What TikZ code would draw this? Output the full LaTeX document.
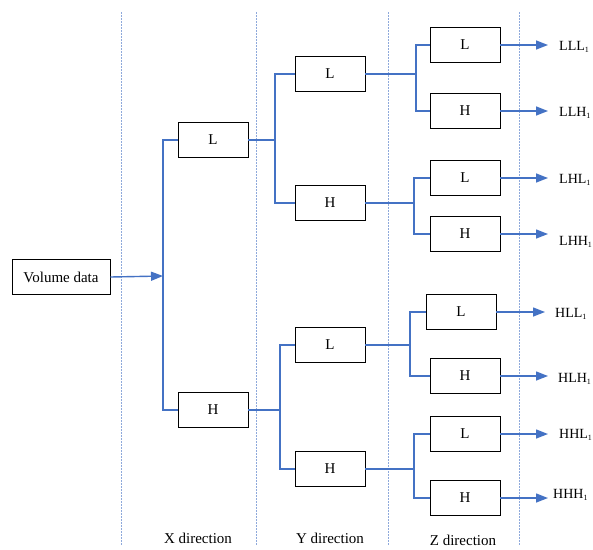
\documentclass[tikz,border=0pt]{standalone}
\usepackage{fontspec}
\setmainfont{Liberation Serif}
\usetikzlibrary{arrows.meta}
\definecolor{linkblue}{HTML}{4472C4}
\definecolor{sepblue}{HTML}{8EA9DB}
\newcommand{\one}{\raisebox{-2pt}{\fontsize{8}{8}\selectfont 1}}
\begin{document}
\begin{tikzpicture}[x=1pt,y=-1pt]
\tikzstyle{every node}+=[font=\fontsize{15}{17}\selectfont]
\tikzstyle{box}=[draw=black, line width=0.9pt, minimum width=70pt, minimum height=35pt, inner sep=0pt]
\tikzstyle{link}=[draw=linkblue, line width=1.4pt]
\tikzstyle{outarrow}=[link, -{Triangle[length=12pt,width=9pt]}]
\tikzstyle{sep}=[draw=sepblue, line width=1pt, dash pattern=on 2pt off 1pt]
\tikzstyle{outlabel}=[anchor=west, inner sep=0pt, font=\fontsize{14}{16}\selectfont]
\useasboundingbox (0,0) rectangle (593,549);
% direction separators
\draw [sep] (121,12) -- (121,545);
\draw [sep] (256,12) -- (256,545);
\draw [sep] (388,12) -- (388,545);
\draw [sep] (519,12) -- (519,545);
% input
\node [box, minimum width=98pt] (vol) at (61,277) {Volume data};
% X direction
\coordinate (xj) at (163,276);
\node [box] (xL) at (213,140) {L};
\node [box] (xH) at (213,410) {H};
\draw [outarrow] (vol.east) -- (xj);
\draw [link] (xL.west) -| (xj) |- (xH.west);
% Y direction
\coordinate (yj1) at (275,140);
\coordinate (yj2) at (280,410);
\node [box] (yLL) at (330,74) {L};
\node [box] (yLH) at (330,203) {H};
\node [box] (yHL) at (330,345) {L};
\node [box] (yHH) at (330,469) {H};
\draw [link] (xL.east) -- (yj1);
\draw [link] (yLL.west) -| (yj1) |- (yLH.west);
\draw [link] (xH.east) -- (yj2);
\draw [link] (yHL.west) -| (yj2) |- (yHH.west);
% Z direction
\coordinate (zj1) at (416,74);
\coordinate (zj2) at (414,203);
\coordinate (zj3) at (410,345);
\coordinate (zj4) at (414,469);
\node [box] (zLLL) at (465,45) {L};
\node [box] (zLLH) at (465,111) {H};
\node [box] (zLHL) at (465,178) {L};
\node [box] (zLHH) at (465,234) {H};
\node [box] (zHLL) at (461,312) {L};
\node [box] (zHLH) at (465,376) {H};
\node [box] (zHHL) at (465,434) {L};
\node [box] (zHHH) at (465,498) {H};
\draw [link] (yLL.east) -- (zj1);
\draw [link] (zLLL.west) -| (zj1) |- (zLLH.west);
\draw [link] (yLH.east) -- (zj2);
\draw [link] (zLHL.west) -| (zj2) |- (zLHH.west);
\draw [link] (yHL.east) -- (zj3);
\draw [link] (zHLL.west) -| (zj3) |- (zHLH.west);
\draw [link] (yHH.east) -- (zj4);
\draw [link] (zHHL.west) -| (zj4) |- (zHHH.west);
% outputs
\coordinate (oLLL) at (548,45);
\coordinate (oLLH) at (548,111);
\coordinate (oLHL) at (548,178);
\coordinate (oLHH) at (548,234);
\coordinate (oHLL) at (545,312);
\coordinate (oHLH) at (548,376);
\coordinate (oHHL) at (548,434);
\coordinate (oHHH) at (548,498);
\draw [outarrow] (zLLL.east) -- (oLLL);
\draw [outarrow] (zLLH.east) -- (oLLH);
\draw [outarrow] (zLHL.east) -- (oLHL);
\draw [outarrow] (zLHH.east) -- (oLHH);
\draw [outarrow] (zHLL.east) -- (oHLL);
\draw [outarrow] (zHLH.east) -- (oHLH);
\draw [outarrow] (zHHL.east) -- (oHHL);
\draw [outarrow] (zHHH.east) -- (oHHH);
\node [outlabel] (tLLL) at (559,47) {LLL\one};
\node [outlabel] (tLLH) at (559,113) {LLH\one};
\node [outlabel] (tLHL) at (559,180) {LHL\one};
\node [outlabel] (tLHH) at (559,242) {LHH\one};
\node [outlabel] (tHLL) at (555,314) {HLL\one};
\node [outlabel] (tHLH) at (558,379) {HLH\one};
\node [outlabel] (tHHL) at (559,435) {HHL\one};
\node [outlabel] (tHHH) at (553,495) {HHH\one};
% axis labels
\node (xdir) at (198,538) {X direction};
\node (ydir) at (330,538) {Y direction};
\node (zdir) at (463,540) {Z direction};
\end{tikzpicture}
\end{document}
